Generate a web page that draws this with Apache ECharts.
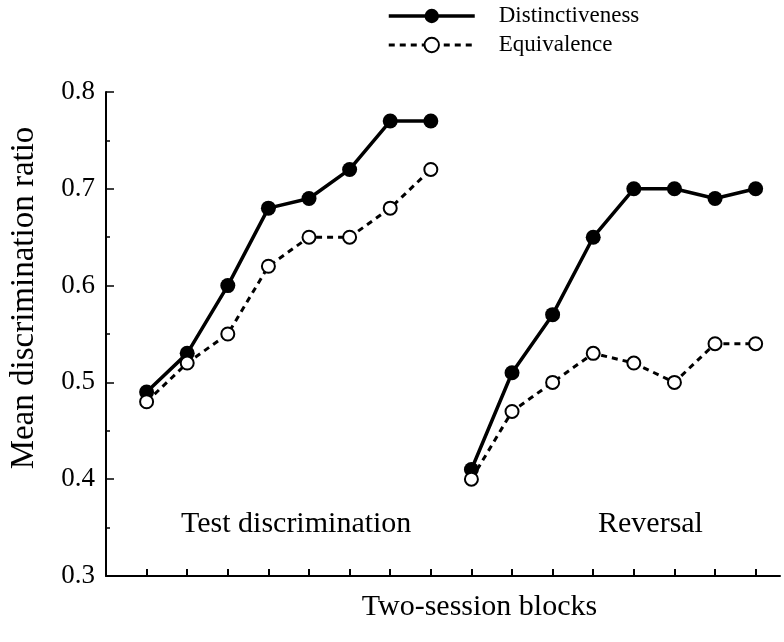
<!DOCTYPE html>
<html>
<head>
<meta charset="utf-8">
<script src="https://cdn.jsdelivr.net/npm/echarts@6/dist/echarts.min.js"></script>
<style>html,body{margin:0;padding:0;background:#fff}#c{width:784px;height:642px}</style>
</head>
<body>
<div id="c"></div>
<script>
const blocksTest = [1, 2, 3, 4, 5, 6, 7, 8];
const blocksReversal = [9, 10, 11, 12, 13, 14, 15, 16];
const distinctTest = [0.49, 0.53, 0.60, 0.68, 0.69, 0.72, 0.77, 0.77];
const equivTest = [0.48, 0.52, 0.55, 0.62, 0.65, 0.65, 0.68, 0.72];
const distinctRev = [0.41, 0.51, 0.57, 0.65, 0.70, 0.70, 0.69, 0.70];
const equivRev = [0.40, 0.47, 0.50, 0.53, 0.52, 0.50, 0.54, 0.54];
const phaseLabels = ['Test discrimination', 'Reversal'];
const seriesNames = ['Distinctiveness', 'Equivalence'];

function build(xsA, ysA, xsB, ysB) {
  const d = xsA.map((x, i) => [x, ysA[i]]);
  d.push([(xsA[xsA.length - 1] + xsB[0]) / 2, null]);
  return d.concat(xsB.map((x, i) => [x, ysB[i]]));
}

const FONT = 'Liberation Serif';
const solidLine = {color: '#000', width: 3.5};
const dashLine = {color: '#000', width: 3, type: [6, 5]};
const chart = echarts.init(document.getElementById('c'), null, {renderer: 'canvas'});
chart.setOption({
  backgroundColor: '#fff',
  animation: false,
  textStyle: {fontFamily: FONT, color: '#000'},
  grid: {left: 103, top: 92, right: 4, bottom: 66, containLabel: false},
  title: [
    {text: phaseLabels[0], left: 181, top: 509, padding: 0,
     textStyle: {fontFamily: FONT, fontSize: 30, fontWeight: 'normal', color: '#000'}},
    {text: phaseLabels[1], left: 598, top: 509, padding: 0,
     textStyle: {fontFamily: FONT, fontSize: 30, fontWeight: 'normal', color: '#000'}}
  ],
  legend: {
    orient: 'vertical', left: 387, top: 3, padding: 0,
    itemWidth: 86, itemHeight: 18, itemGap: 3,
    data: [
      {name: seriesNames[0], lineStyle: solidLine},
      {name: seriesNames[1], lineStyle: dashLine, itemStyle: {borderWidth: 2.5}}
    ],
    textStyle: {fontFamily: FONT, fontSize: 23, color: '#000', padding: [0, 0, 0, 19], lineHeight: 26}
  },
  xAxis: {
    type: 'value', min: 0, max: 16.6,
    name: 'Two-session blocks', nameLocation: 'middle', nameGap: 16,
    nameTextStyle: {fontFamily: FONT, fontSize: 30, color: '#000', padding: [0, 0, 0, 73]},
    axisLine: {show: true, onZero: false, lineStyle: {color: '#000', width: 2}},
    axisTick: {show: true, inside: true, length: 7, customValues: blocksTest.concat(blocksReversal),
               lineStyle: {color: '#000', width: 2}},
    axisLabel: {show: false},
    splitLine: {show: false}
  },
  yAxis: {
    type: 'value', min: 0.3, max: 0.8, interval: 0.1,
    name: 'Mean discrimination ratio', nameLocation: 'middle', nameGap: 65,
    nameTextStyle: {fontFamily: FONT, fontSize: 33, color: '#000', padding: [0, 0, 0, 72]},
    axisLine: {show: true, lineStyle: {color: '#000', width: 2}},
    axisTick: {show: true, inside: true, length: 8, lineStyle: {color: '#000', width: 1.5}},
    minorTick: {show: true, splitNumber: 2, length: 4, lineStyle: {color: '#000', width: 1.5}},
    axisLabel: {fontFamily: FONT, fontSize: 27, color: '#000', margin: 11,
                formatter: v => v.toFixed(1)},
    splitLine: {show: false}
  },
  series: [
    {
      name: seriesNames[0], type: 'line',
      data: build(blocksTest, distinctTest, blocksReversal, distinctRev),
      symbol: 'circle', symbolSize: 15, connectNulls: false,
      lineStyle: solidLine,
      itemStyle: {color: '#000'},
      z: 3
    },
    {
      name: seriesNames[1], type: 'line',
      data: build(blocksTest, equivTest, blocksReversal, equivRev),
      symbol: 'emptyCircle', symbolSize: 13, connectNulls: false,
      lineStyle: dashLine,
      itemStyle: {color: '#000', borderColor: '#000', borderWidth: 2.5},
      z: 4
    }
  ]
});
</script>
</body>
</html>
